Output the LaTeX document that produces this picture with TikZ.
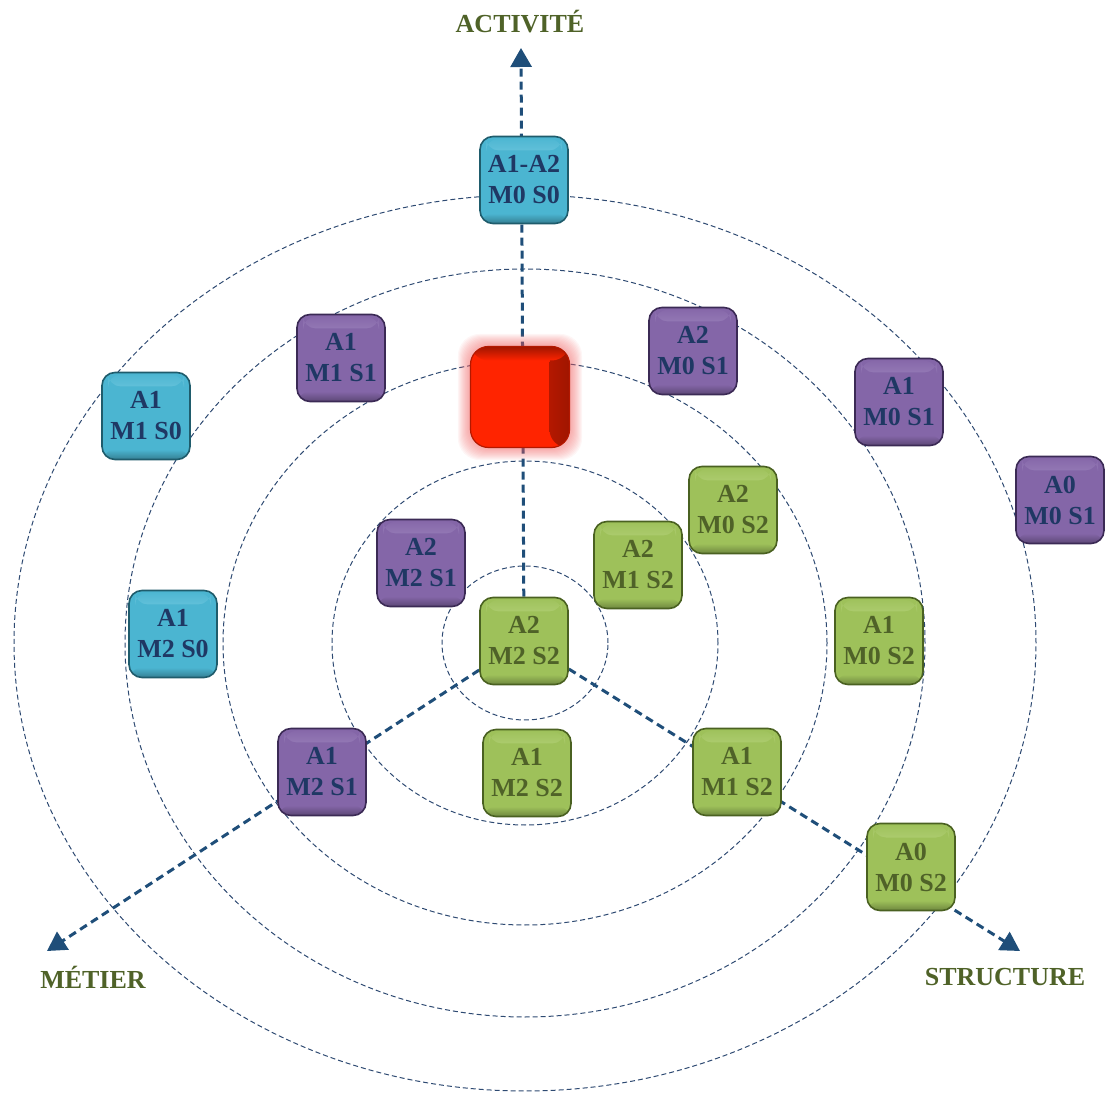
\documentclass[tikz,border=0pt]{standalone}
\usepackage{fontspec}
\setmainfont{Liberation Serif}
\usetikzlibrary{arrows.meta,backgrounds,calc}

\definecolor{cyanfill}{HTML}{4BB5D1}
\definecolor{cyanlight}{HTML}{8FD7EA}
\definecolor{cyanedge}{HTML}{1F5C6C}
\definecolor{purplefill}{HTML}{8466A8}
\definecolor{purplelight}{HTML}{B09CCE}
\definecolor{purpleedge}{HTML}{3B2A55}
\definecolor{greenfill}{HTML}{9EC15A}
\definecolor{greenlight}{HTML}{C8E096}
\definecolor{greenedge}{HTML}{4A6121}
\definecolor{navytext}{HTML}{1F3864}
\definecolor{olivetext}{HTML}{4F6228}
\definecolor{ringcol}{HTML}{2E4A72}
\definecolor{axiscol}{HTML}{1F4E79}
\definecolor{corered}{HTML}{FF2400}
\definecolor{coredark}{HTML}{A01500}
\definecolor{coreglow}{HTML}{F06060}

\tikzset{
  box/.style={rounded corners=6.5pt, minimum width=44pt, minimum height=43.5pt,
    inner sep=0pt, align=center, line width=0.8pt,
    font=\bfseries\fontsize{13}{15.5}\selectfont},
  bevel/.style args={#1/#2}{fill=#1,
    path picture={
      \shade[top color=#1, bottom color=#1, middle color=#2]
        ($(path picture bounding box.north west)+(6,2)$) rectangle ($(path picture bounding box.north east)+(-6,14)$);
      \shade[top color=#1, bottom color=#1!70!black]
        ($(path picture bounding box.south west)+(0,-10)$) rectangle (path picture bounding box.south east);
    }},
  cyanbox/.style={box, draw=cyanedge, bevel=cyanfill/cyanlight, text=navytext},
  purplebox/.style={box, draw=purpleedge, bevel=purplefill/purplelight, text=navytext},
  greenbox/.style={box, draw=greenedge, bevel=greenfill/greenlight, text=olivetext},
  corebox/.style={rounded corners=9pt, minimum width=49.5pt, minimum height=50.5pt,
    inner sep=0pt, fill=corered, draw=coredark!80!corered, line width=0.6pt,
    path picture={
      \shade[left color=corered, right color=coredark]
        ($(path picture bounding box.north east)+(-20,0)$) rectangle (path picture bounding box.south east);
      \shade[bottom color=corered, top color=coredark]
        (path picture bounding box.north west) rectangle ($(path picture bounding box.north east)+(0,14)$);
    }},
  ring/.style={draw=ringcol, line width=0.5pt, dash pattern=on 2.5pt off 1.5pt},
  axis/.style={draw=axiscol, line width=1.5pt, dash pattern=on 4pt off 2.5pt,
    -{Triangle[width=10.5pt,length=9.5pt]}},
  axislabel/.style={font=\bfseries\fontsize{13}{15}\selectfont, text=olivetext}
}

\begin{document}
\begin{tikzpicture}[x=0.5pt,y=-0.5pt]
    \useasboundingbox (0,0) rectangle (1115,1096);
    \coordinate (ctr) at (525,643);
    %% axis ends and titles
    \coordinate (tipA) at (521,48);
    \coordinate (tipM) at (47,951);
    \coordinate (tipS) at (1020,951);
    \node[axislabel] (lact) at (520,22) {ACTIVITÉ};
    \node[axislabel] (lmet) at (93,977) {MÉTIER};
    \node[axislabel] (lstr) at (1005,977) {STRUCTURE};
    %% boxes
    \node[corebox] (core) at (520,397) {};
    \foreach \n/\x/\y/\l in {a12m0s0/524/180/A1-A2\\M0 S0, a1m1s0/146/416/A1\\M1 S0,
        a1m2s0/173/634/A1\\M2 S0}
        \node[cyanbox] (\n) at (\x,\y) {\l};
    \foreach \n/\x/\y/\l in {a1m1s1/341/358/A1\\M1 S1, a2m0s1/693/351/A2\\M0 S1,
        a1m0s1/899/402/A1\\M0 S1, a0m0s1/1060/500/A0\\M0 S1, a2m2s1/421/563/A2\\M2 S1,
        a1m2s1/322/772/A1\\M2 S1}
        \node[purplebox] (\n) at (\x,\y) {\l};
    \foreach \n/\x/\y/\l in {a2m0s2/733/510/A2\\M0 S2, a2m1s2/638/565/A2\\M1 S2,
        a2m2s2/524/641/A2\\M2 S2, a1m0s2/879/641/A1\\M0 S2, a1m2s2/527/773/A1\\M2 S2,
        a1m1s2/737/772/A1\\M1 S2, a0m0s2/911/867/A0\\M0 S2}
        \node[greenbox] (\n) at (\x,\y) {\l};
    \begin{pgfonlayer}{background}
        %% rings
        \foreach \rx/\ry in {41.5pt/38.5pt, 96.5pt/91pt, 151pt/141pt, 200pt/187pt, 255.5pt/224pt}
            \draw[ring] (ctr) ellipse [x radius=\rx, y radius=\ry];
        %% axes
        \draw[axis] (a2m2s2) -- (tipA);
        \draw[axis] (a2m2s2) -- (tipM);
        \draw[axis] (a2m2s2) -- (tipS);
        %% glow
        \foreach \g in {1,...,12}
            \fill[coreglow, opacity=0.06, rounded corners=11pt]
                ($(core.south west)+(-\g,\g)$) rectangle ($(core.north east)+(\g,-\g)$);
    \end{pgfonlayer}
\end{tikzpicture}
\end{document}
